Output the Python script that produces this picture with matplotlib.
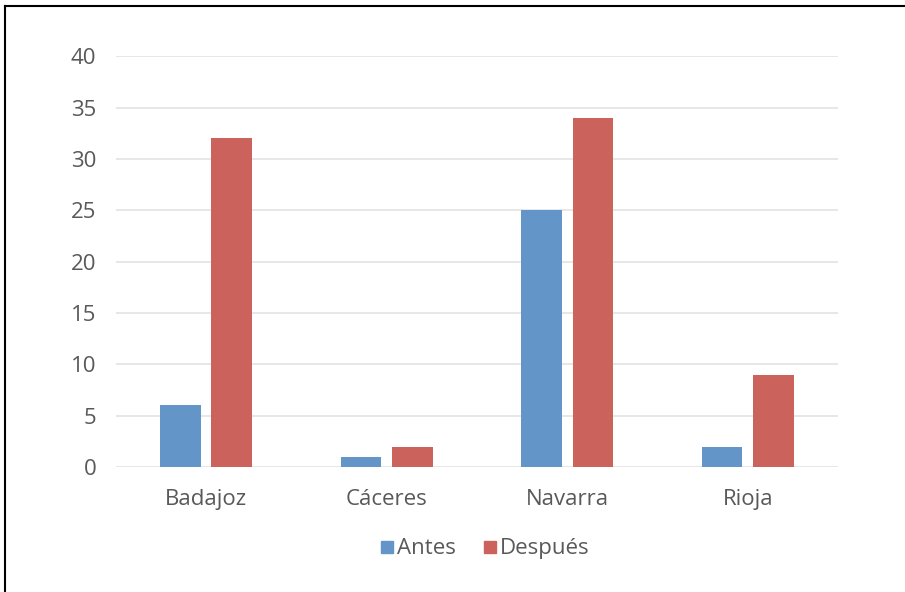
import numpy as np
import matplotlib.pyplot as plt
from matplotlib.lines import Line2D

plt.rcParams['font.family'] = ['Open Sans', 'DejaVu Sans']

regiones = ["Badajoz", "Cáceres", "Navarra", "Rioja"]
antes = [6, 1, 25, 2]
despues = [32, 2, 34, 9]
yticks = [0, 5, 10, 15, 20, 25, 30, 35, 40]

azul = "#6495c9"
rojo = "#cb625c"
gris = "#595959"

fig = plt.figure(figsize=(9.05, 5.92), dpi=100)
ax = fig.add_axes([0.128, 0.211, 0.798, 0.694])

x = np.arange(len(regiones))
w = 0.225
off = 0.142
ax.bar(x - off, antes, w, color=azul, zorder=3)
ax.bar(x + off, despues, w, color=rojo, zorder=3)

ax.set_xlim(-0.5, len(regiones) - 0.5)
ax.set_ylim(0, 40)
ax.set_yticks(yticks)
ax.set_xticks(x)
ax.set_xticklabels(regiones)
ax.yaxis.grid(True, color="#e3e3e3", linewidth=1.2, zorder=0)
for s in ax.spines.values():
    s.set_visible(False)
ax.tick_params(axis="both", length=0, labelsize=16, colors=gris)
ax.tick_params(axis="y", pad=14)
ax.tick_params(axis="x", pad=16)

handles = [Line2D([], [], marker="s", linestyle="", color=azul, markersize=8),
           Line2D([], [], marker="s", linestyle="", color=rojo, markersize=8)]
leg = ax.legend(handles, ["Antes", "Después"], loc="upper center",
                bbox_to_anchor=(0.51, -0.125), ncol=2, frameon=False,
                fontsize=16, handletextpad=0.1, columnspacing=1.2,
                handlelength=0.7)
for t in leg.get_texts():
    t.set_color(gris)

# marco de la imagen (solo arriba e izquierda)
fig.add_artist(Line2D([5 / 905, 5 / 905], [0, 1 - 6 / 592], color="black", lw=1.5))
fig.add_artist(Line2D([5 / 905, 1], [1 - 6 / 592, 1 - 6 / 592], color="black", lw=1.5))

fig.savefig("out.png", dpi=100)
